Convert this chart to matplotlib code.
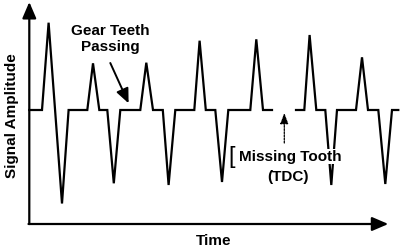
import numpy as np
import matplotlib
matplotlib.use("Agg")
import matplotlib.pyplot as plt

# forma de onda do sensor (tempo, amplitude), nan = dente faltando
tempo = [0, 12.7, 19.3, 32.7, 39.3,
         58, 63.7, 70, 78, 84.5, 91,
         111, 117, 123.7, 133.5, 139.3, 146,
         165, 170.3, 176.5, 186, 192.7, 199,
         221, 227, 233.7, 242.7,
         np.nan,
         266.7, 275, 280.3, 287, 296, 302, 307.7,
         326.7, 332.7, 338.7, 349, 356, 362.7, 369]
amplitude = [0, 0, 87.3, -93.5, 0,
             0, 46.7, 0, 0, -73.3, 0,
             0, 47.3, 0, 0, -75, 0,
             0, 69.3, 0, 0, -72, 0,
             0, 70.7, 0, 0,
             np.nan,
             0, 0, 75, 0, 0, -75, 0,
             0, 52.7, 0, 0, -74, 0, 0]

x_label = "Time"
y_label = "Signal Amplitude"
txt_teeth = "Gear Teeth\nPassing"
txt_missing = "Missing Tooth"
txt_tdc = "(TDC)"


def main():
    plt.rcParams['font.family'] = ['Liberation Sans', 'DejaVu Sans']
    fig = plt.figure(figsize=(4, 2.5), dpi=100)
    ax = fig.add_axes([0, 0, 1, 1])
    ax.set_xlim(-29.3, 370.7)
    ax.set_ylim(-140, 110)
    ax.axis('off')

    # sinal
    ax.plot(tempo, amplitude, color='black', lw=1.6, solid_joinstyle='miter', zorder=2)

    # eixos com setas
    seta = dict(arrowstyle='-|>,head_length=0.7,head_width=0.3', color='black',
                lw=1.6, shrinkA=0, shrinkB=0, mutation_scale=14)
    ax.annotate('', xy=(0, 108), xytext=(0, -114), arrowprops=seta)
    ax.annotate('', xy=(359, -114), xytext=(-0.8, -114), arrowprops=seta)

    ax.text(184, -131, x_label, ha='center', va='center', fontsize=11, fontweight='bold')
    ax.text(-17, -6, y_label, ha='center', va='center', rotation=90,
            fontsize=11, fontweight='bold')

    # anotacoes
    ax.text(81, 71, txt_teeth, ha='center', va='center', multialignment='center',
            fontsize=11, fontweight='bold', linespacing=1.15)
    ax.annotate('', xy=(99.3, 6.7), xytext=(81, 47),
                arrowprops=dict(arrowstyle='-|>,head_length=0.8,head_width=0.35',
                                color='black', lw=1.4, shrinkA=0, shrinkB=0,
                                mutation_scale=11))

    ax.text(202, -47, "[", ha='center', va='center', fontsize=17)
    ax.text(261.3, -46.7, txt_missing, ha='center', va='center', fontsize=11,
            fontweight='bold', zorder=3,
            bbox=dict(facecolor='white', edgecolor='none', pad=0.5))
    ax.text(258.5, -66.7, txt_tdc, ha='center', va='center', fontsize=11,
            fontweight='bold')
    ax.annotate('', xy=(255, -3), xytext=(255, -33),
                arrowprops=dict(arrowstyle='-|>,head_length=0.8,head_width=0.3',
                                color='black', lw=0.9, linestyle=(0, (1.5, 1)),
                                shrinkA=0, shrinkB=0, mutation_scale=8))

    fig.savefig('out.png', dpi=100)


if __name__ == "__main__":
    main()
